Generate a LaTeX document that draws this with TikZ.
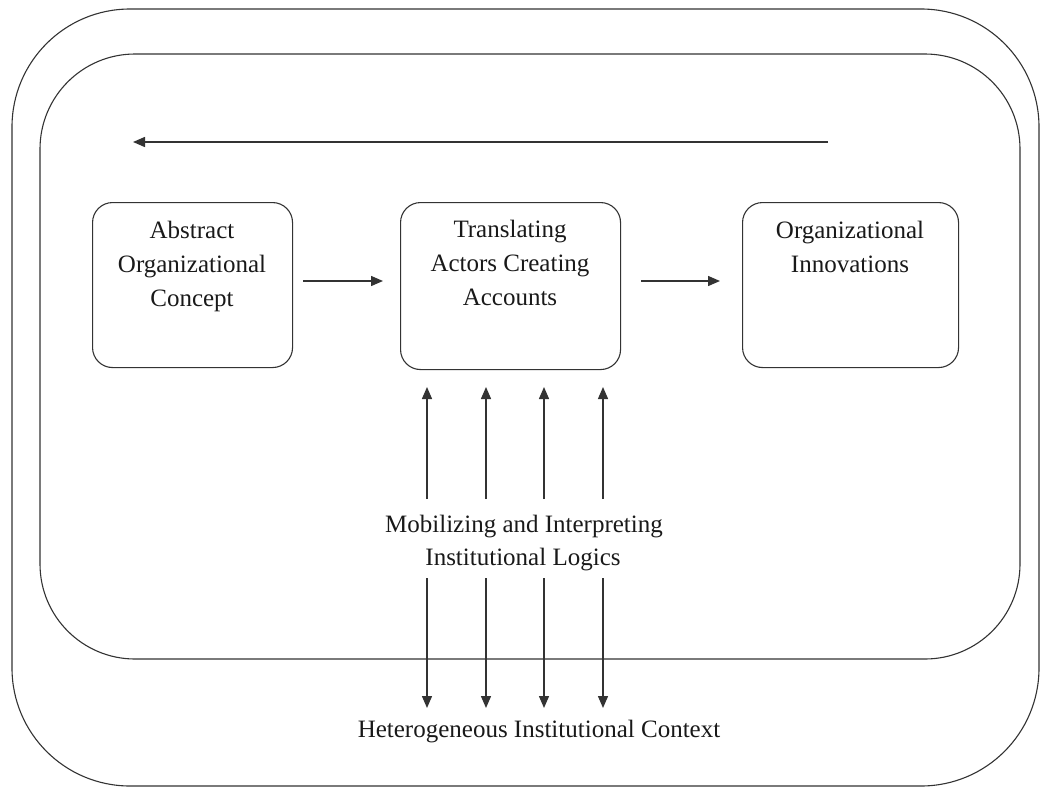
\documentclass[tikz,border=0pt]{standalone}
\usepackage{fontspec}
\setmainfont{Liberation Serif}
\usetikzlibrary{arrows.meta}
\begin{document}
\begin{tikzpicture}[x=1pt,y=-1pt,
  frame/.style={draw=black!80,line width=1.1pt},
  box/.style={draw=black!80,line width=1.1pt,rounded corners=20pt,minimum width=#1,minimum height=165pt,anchor=north west,inner sep=0pt},
  lbl/.style={font=\fontsize{25}{34}\selectfont,align=center,text=black!90,inner sep=0pt,anchor=base},
  arr/.style={draw=black!80,line width=1.4pt,-{Triangle[length=12pt,width=10pt]}}]
\useasboundingbox (0,0) rectangle (1042,788);
\draw[frame,rounded corners=118pt] (12,9) rectangle (1039,786);
\draw[frame,rounded corners=95pt] (40,54) rectangle (1020,659);
% top arrow
\coordinate (ts) at (828,142);
\coordinate (te) at (133,142);
\draw[arr] (ts) -- (te);
% boxes
\node[box=200pt] (b1) at (92,202) {};
\node[box=220pt,minimum height=167pt] (b2) at (400,202) {};
\node[box=216pt] (b3) at (742,202) {};
\node[lbl] (t1) at (192,306) {Abstract\\Organizational\\Concept};
\node[lbl] (t2) at (510,305) {Translating\\Actors Creating\\Accounts};
\node[lbl] (t3) at (850,272) {Organizational\\Innovations};
\draw[arr] ([xshift=10pt]b1.east |- 0,281) -- ([xshift=-17pt]b2.west |- 0,281);
\draw[arr] ([xshift=20pt]b2.east |- 0,281) -- ([xshift=-22pt]b3.west |- 0,281);
% middle texts
\node[lbl] (m1) at (524,532) {Mobilizing and Interpreting};
\node[lbl] (m2) at (523,565) {Institutional Logics};
\node[lbl] (h) at (539,737) {Heterogeneous Institutional Context};
\foreach \x [count=\i] in {427,486,544,603}{
  \coordinate (u\i) at (\x,499);
  \coordinate (ut\i) at (\x,387);
  \coordinate (l\i) at (\x,578);
  \coordinate (lt\i) at (\x,708);
  \draw[arr] (u\i) -- (ut\i);
  \draw[arr] (l\i) -- (lt\i);
}
\end{tikzpicture}
\end{document}
